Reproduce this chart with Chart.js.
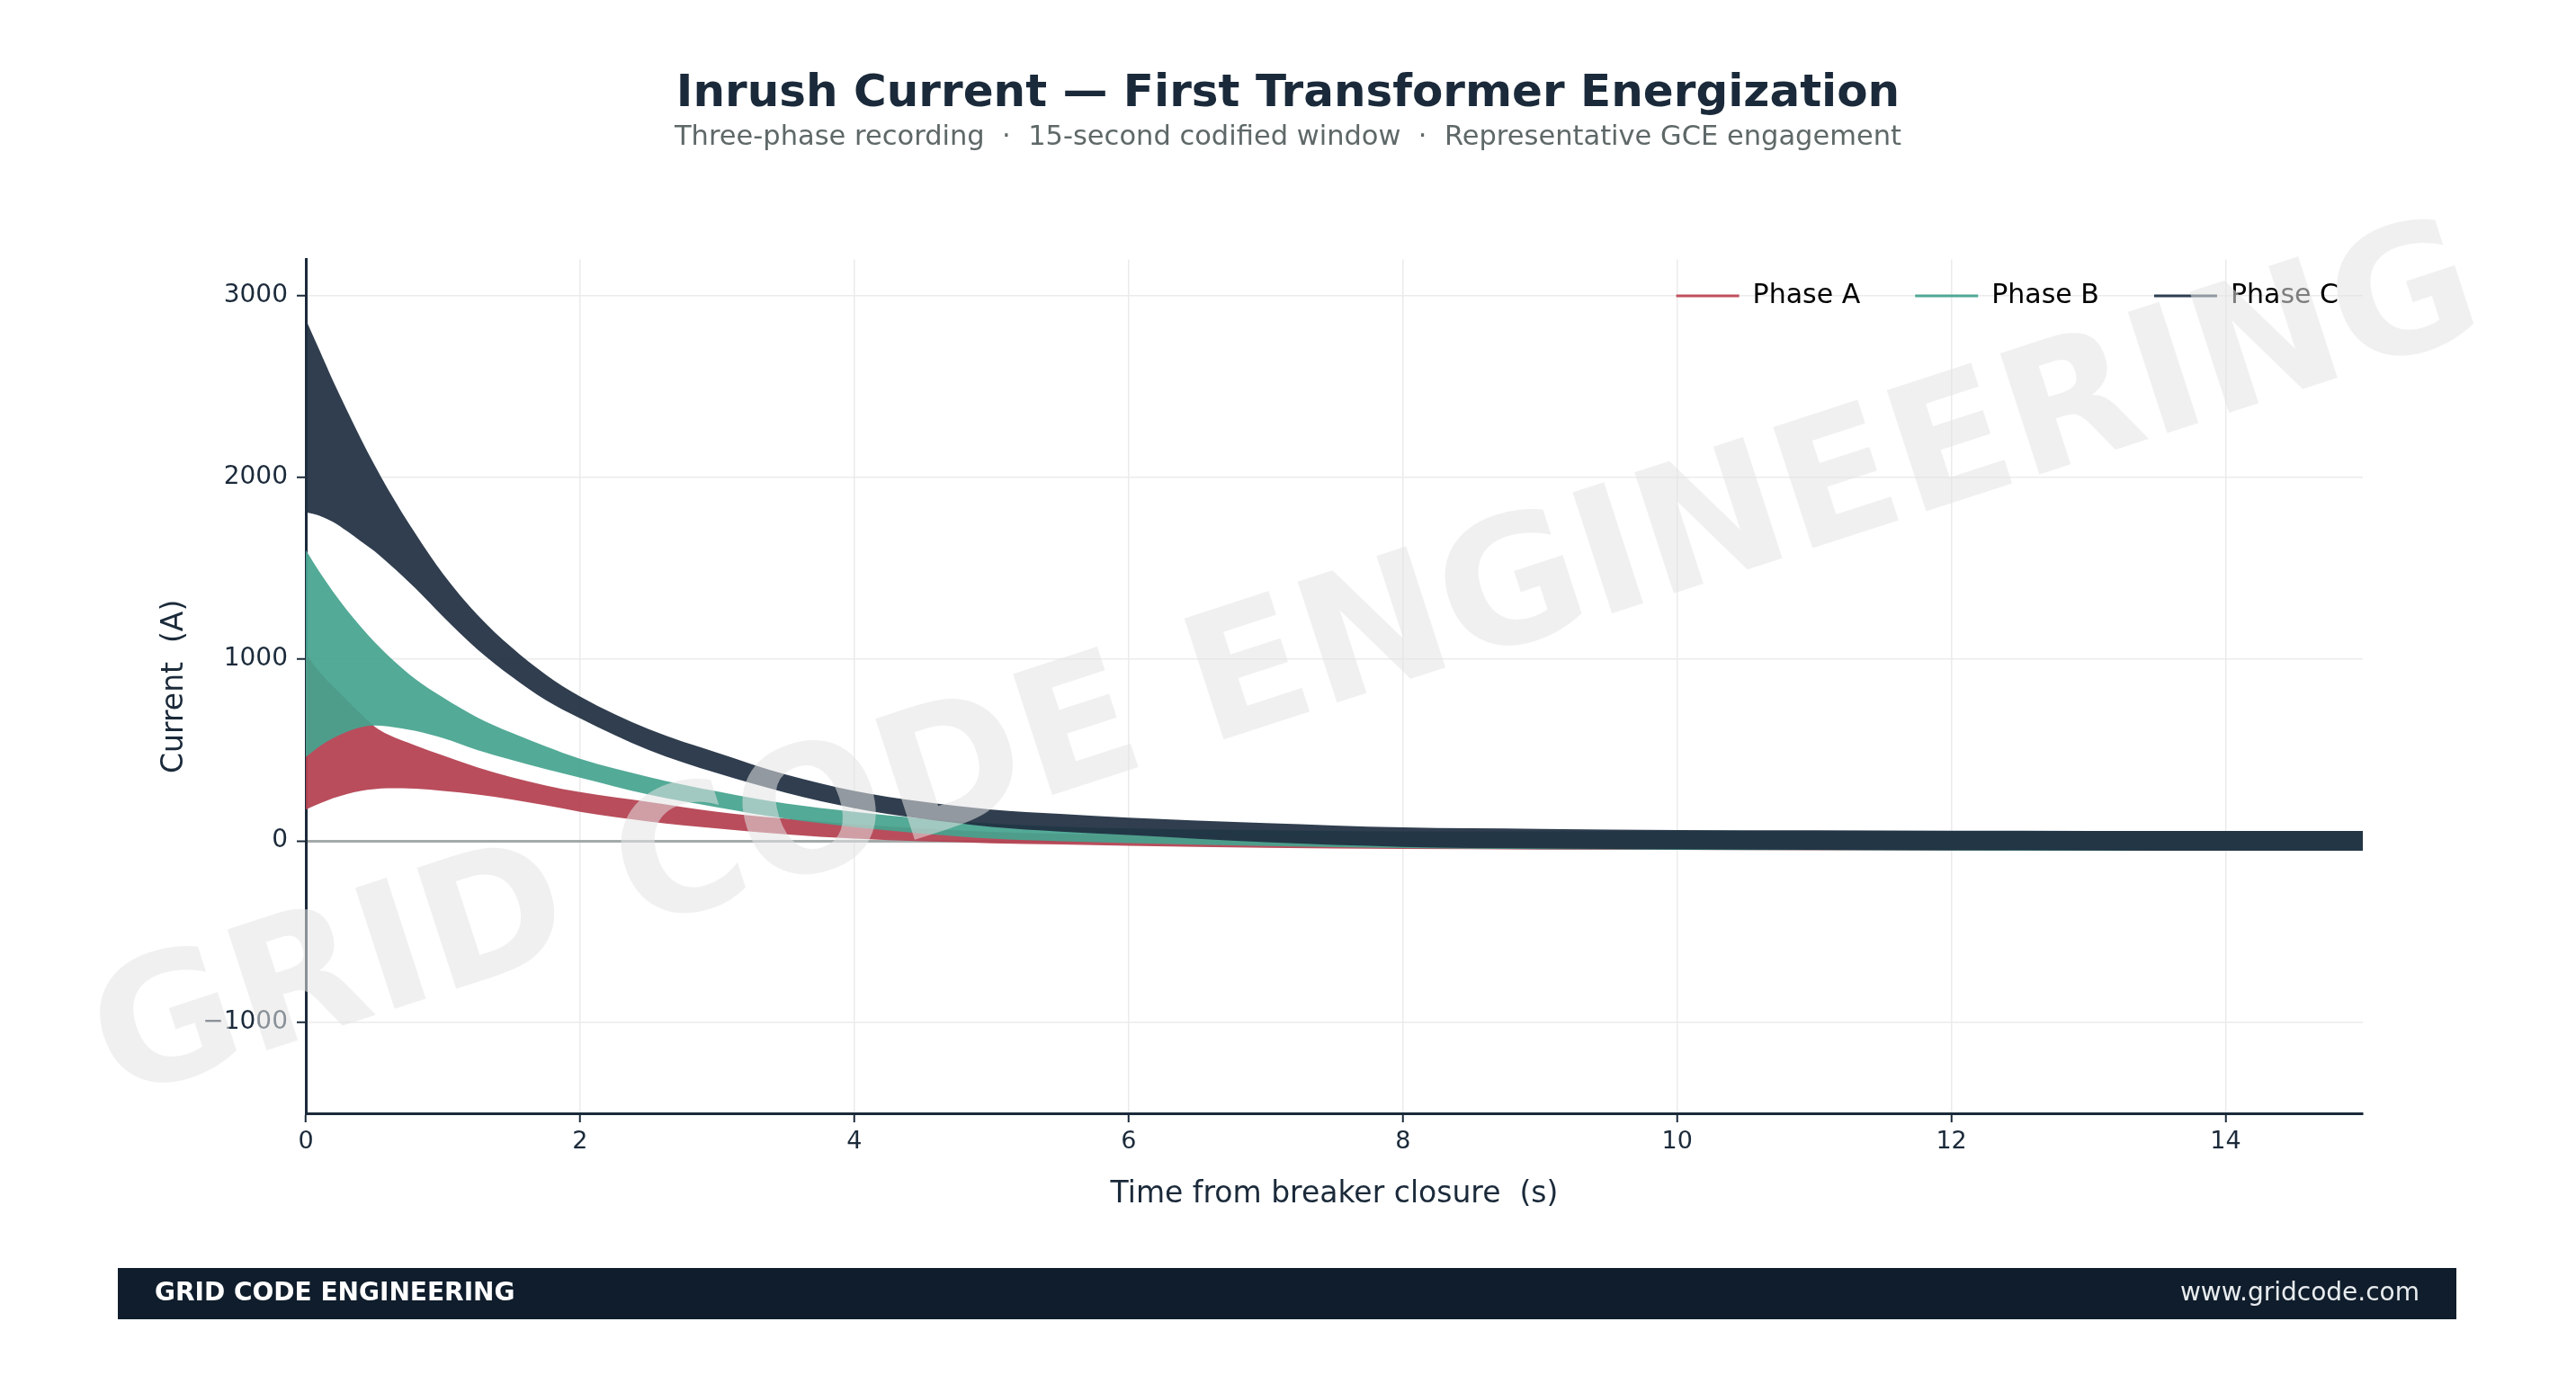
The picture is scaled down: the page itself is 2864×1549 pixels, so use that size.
<!DOCTYPE html>
<html>
<head>
<meta charset="utf-8">
<title>Inrush Current</title>
<script src="https://cdn.jsdelivr.net/npm/chart.js@4.4.1/dist/chart.umd.min.js"></script>
<style>
  html, body { margin: 0; padding: 0; background: #ffffff; }
  #wrap { width: 2864px; height: 1549px; position: relative; }
</style>
</head>
<body>
<div id="wrap"><canvas id="myChart"></canvas></div>
<script>
// time axis (s) and envelope values (A)
const timeS = [0, 0.1, 0.2, 0.3, 0.4, 0.5, 0.6, 0.8, 1.0, 1.25, 1.5, 1.75, 2.0, 2.5, 3.0, 3.5, 4.0, 4.5, 5.0, 5.5, 6.0, 7.0, 8.0, 9.0, 10.0, 11.0, 12.0, 13.0, 14.0, 15.0];

const phaseAUpper = [1030, 930, 850, 775, 700, 630, 585, 525, 470, 405, 350, 305, 268, 214, 160, 122, 92, 68, 50, 40, 36, 40, 46, 50, 52, 53, 54, 54, 54, 54];
const phaseALower = [172, 205, 235, 258, 275, 285, 290, 287, 275, 255, 228, 195, 160, 107, 68, 36, 12, -3, -13, -20, -27, -38, -45, -48, -50, -52, -53, -54, -54, -54];

const phaseBUpper = [1600, 1480, 1370, 1270, 1180, 1095, 1020, 890, 790, 680, 595, 520, 452, 352, 272, 205, 160, 122, 95, 78, 68, 58, 52, 52, 53, 54, 54, 54, 54, 54];
const phaseBLower = [462, 520, 565, 600, 625, 635, 630, 605, 565, 500, 445, 395, 348, 255, 185, 122, 75, 40, 12, -2, -12, -28, -40, -46, -49, -51, -53, -54, -54, -54];

const phaseCUpper = [2870, 2700, 2530, 2370, 2215, 2070, 1935, 1690, 1470, 1245, 1065, 915, 795, 615, 485, 365, 275, 215, 172, 148, 128, 98, 74, 66, 60, 58, 56, 55, 54, 54];
const phaseCLower = [1810, 1790, 1755, 1705, 1650, 1595, 1530, 1390, 1235, 1055, 905, 775, 675, 500, 372, 265, 180, 121, 77, 51, 32, -8, -33, -42, -47, -50, -52, -53, -54, -54];

const phaseNames = ['Phase A', 'Phase B', 'Phase C'];
const xTicks = [0, 2, 4, 6, 8, 10, 12, 14];
const yTicks = [-1000, 0, 1000, 2000, 3000];

const NAVY = '#1b2a3a';
const colA = 'rgba(180, 64, 80, 0.93)';
const colB = 'rgba(70, 164, 143, 0.93)';
const colC = 'rgba(30, 46, 64, 0.92)';
const legendCols = ['#c0505e', '#4fa896', '#2c3e50'];
const FONT = "'DejaVu Sans', sans-serif";

function pts(vals){
  return vals.map((v, i) => ({x: timeS[i], y: v}));
}

function band(label, vals, col, order, fillTarget){
  return {
    label: label,
    data: pts(vals),
    borderWidth: 0,
    borderColor: col,
    backgroundColor: col,
    pointRadius: 0,
    cubicInterpolationMode: 'monotone',
    fill: fillTarget === null ? false : {target: fillTarget},
    order: order
  };
}

// title over full page width, legend moved into the plot corner
const placeBoxes = {
  id: 'placeBoxes',
  afterLayout(chart){
    chart.boxes.forEach(b => {
      if (b !== chart.legend && b.options && typeof b.options.text === 'string') {
        b.left = 0; b.right = chart.width; b.width = chart.width;
      }
    });
    const lg = chart.legend;
    const dx = 2661 - lg.right;
    const dy = 253 - lg.top;
    lg.left += dx; lg.right += dx;
    lg.top += dy; lg.bottom += dy;
  }
};

// footer bar + watermark, drawn on top like the original
const extras = {
  id: 'extras',
  afterDraw(chart){
    const ctx = chart.ctx;
    ctx.save();
    ctx.fillStyle = '#0f1d2c';
    ctx.fillRect(131, 1410, 2600, 57);
    ctx.fillStyle = '#ffffff';
    ctx.textBaseline = 'middle';
    ctx.textAlign = 'left';
    ctx.font = "bold 28px " + FONT;
    ctx.fillText('GRID CODE ENGINEERING', 172, 1439);
    ctx.textAlign = 'right';
    ctx.fillStyle = '#e8ecef';
    ctx.font = "28px " + FONT;
    ctx.fillText('www.gridcode.com', 2690, 1439);

    ctx.translate(1432, 746);
    ctx.rotate(-18 * Math.PI / 180);
    ctx.textAlign = 'center';
    ctx.font = "bold 194px " + FONT;
    ctx.fillStyle = 'rgba(228, 228, 228, 0.55)';
    ctx.fillText('GRID CODE ENGINEERING', 0, 0);
    ctx.restore();
  }
};

let canvas = document.getElementById('myChart');
let chart = new Chart(canvas.getContext('2d'), {
  type: 'line',
  data: {
    datasets: [
      band('A lower', phaseALower, colA, 3, null),
      band('A upper', phaseAUpper, colA, 3, 0),
      band('B lower', phaseBLower, colB, 2, null),
      band('B upper', phaseBUpper, colB, 2, 2),
      band('C lower', phaseCLower, colC, 1, null),
      band('C upper', phaseCUpper, colC, 1, 4)
    ]
  },
  options: {
    responsive: true,
    maintainAspectRatio: false,
    animation: false,
    devicePixelRatio: 1,
    layout: { padding: { left: 0, right: 237, top: 0, bottom: 191 } },
    scales: {
      x: {
        type: 'linear',
        min: 0, max: 15,
        afterBuildTicks: (s) => { s.ticks = xTicks.map(v => ({value: v})); },
        afterFit: (s) => { s.height = 120; },
        border: { color: NAVY, width: 3 },
        grid: { color: '#ebebeb', lineWidth: 1.5, tickColor: NAVY, tickWidth: 2, tickLength: 10 },
        ticks: { color: NAVY, font: { family: FONT, size: 27 }, padding: 6, maxRotation: 0 },
        title: { display: true, text: 'Time from breaker closure  (s)', color: NAVY,
                 font: { family: FONT, size: 33 }, padding: { top: 0, bottom: 10 } }
      },
      y: {
        min: -1500, max: 3200,
        afterBuildTicks: (s) => { s.ticks = yTicks.map(v => ({value: v})); },
        afterFit: (s) => { s.width = 340; },
        border: { color: NAVY, width: 3 },
        grid: {
          color: (c) => c.tick && c.tick.value === 0 ? '#a4aaaa' : '#ebebeb',
          lineWidth: (c) => c.tick && c.tick.value === 0 ? 3 : 1.5,
          tickColor: NAVY, tickWidth: 2, tickLength: 10
        },
        ticks: { color: NAVY, font: { family: FONT, size: 28 }, padding: 10,
                 callback: (v) => v < 0 ? '\u2212' + Math.abs(v) : String(v) },
        title: { display: true, text: 'Current  (A)', color: NAVY,
                 font: { family: FONT, size: 33 }, padding: { top: 175, bottom: 0 } }
      }
    },
    plugins: {
      title: {
        display: true,
        text: 'Inrush Current \u2014 First Transformer Energization',
        color: NAVY,
        font: { family: FONT, size: 50, weight: 'bold' },
        padding: { top: 75, bottom: 0 }
      },
      subtitle: {
        display: true,
        text: 'Three-phase recording  \u00b7  15-second codified window  \u00b7  Representative GCE engagement',
        color: '#5f6868',
        font: { family: FONT, size: 30.5 },
        padding: { top: 0, bottom: 16 }
      },
      legend: {
        position: 'top',
        align: 'end',
        onClick: null,
        labels: {
          color: NAVY,
          font: { family: FONT, size: 30 },
          usePointStyle: true,
          pointStyleWidth: 70,
          padding: 61,
          generateLabels: () => phaseNames.map((n, i) => ({
            text: n, strokeStyle: legendCols[i], fillStyle: legendCols[i],
            lineWidth: 3, pointStyle: 'line', hidden: false, datasetIndex: i * 2 + 1
          }))
        }
      },
      tooltip: { enabled: false }
    }
  },
  plugins: [placeBoxes, extras]
});
</script>
</body>
</html>
